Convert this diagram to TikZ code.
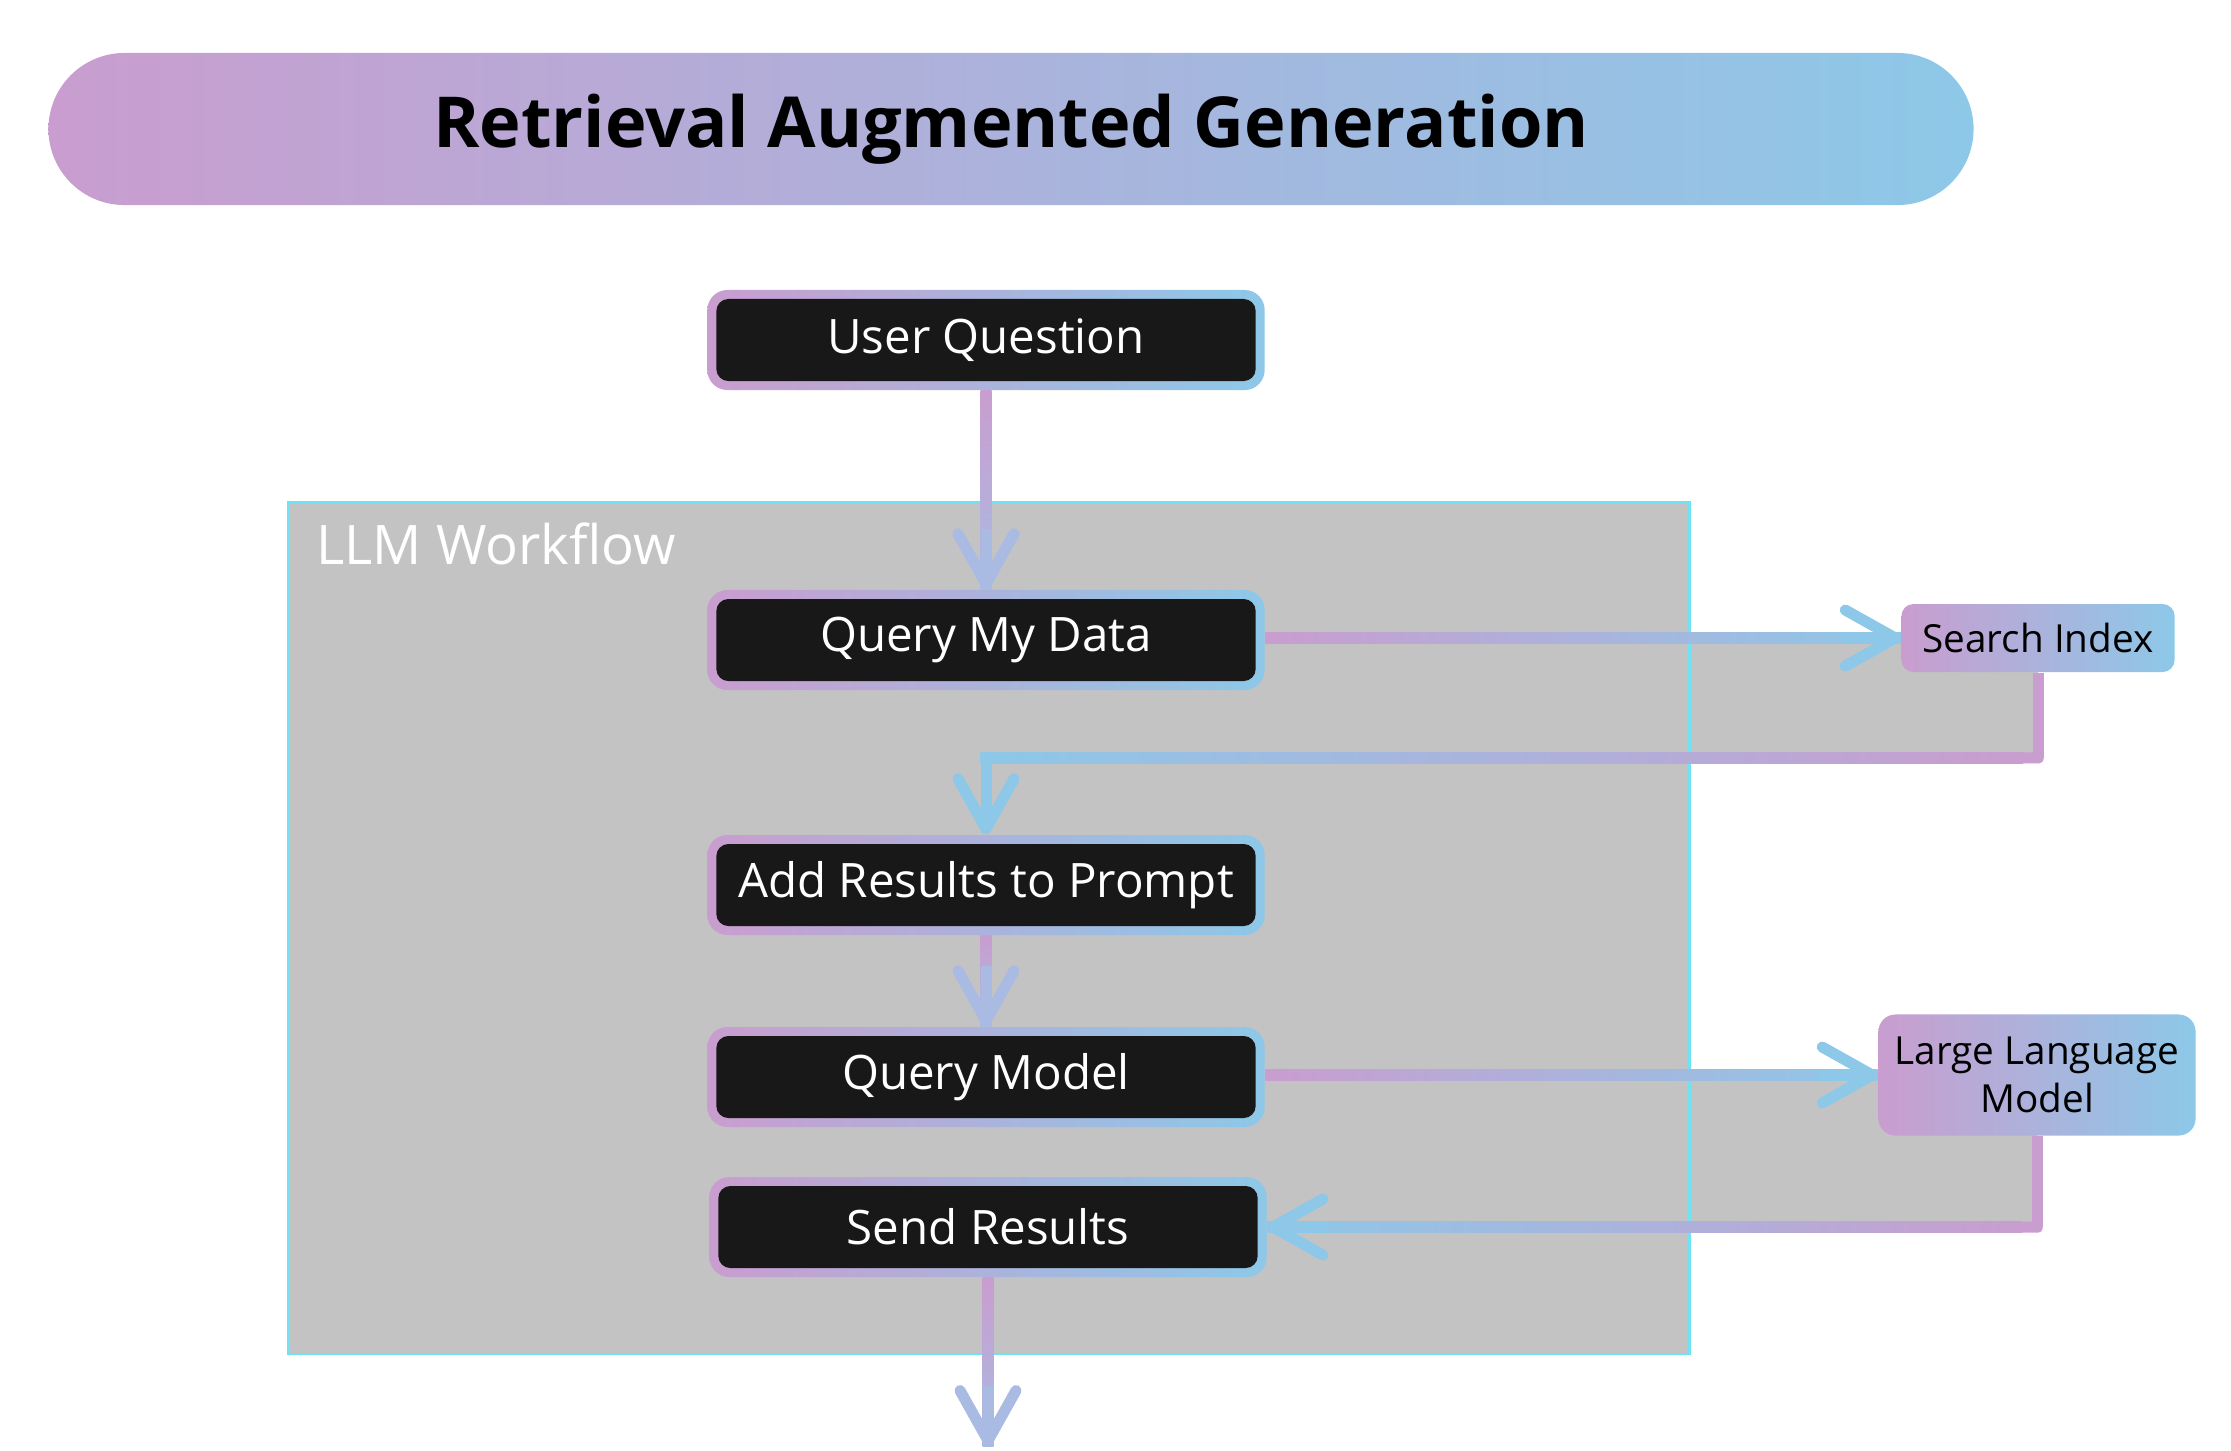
\documentclass[tikz,border=0pt]{standalone}
\usepackage{fontspec}
\setmainfont{Open Sans}
\usetikzlibrary{arrows.meta,calc,backgrounds}

\definecolor{pinkc}{HTML}{C99DCF}
\definecolor{bluec}{HTML}{8DC8E8}
\definecolor{lavc}{HTML}{A9BBE3}
\definecolor{boxfill}{HTML}{181818}
\definecolor{wfgray}{HTML}{C3C3C3}
\definecolor{wfedge}{HTML}{6FE2F3}

\tikzset{
  titlebar/.style={rectangle, rounded corners=0.76cm, left color=pinkc, right color=bluec,
    minimum width=19.24cm, minimum height=1.52cm, font=\fontsize{20}{24}\selectfont\bfseries},
  container/.style={rectangle, draw=wfedge, fill=wfgray, line width=0.02cm, inner sep=0pt,
    minimum width=14.01cm, minimum height=8.52cm},
  stepbox/.style={rectangle, rounded corners=0.2cm, left color=pinkc, right color=bluec,
    minimum width=5.57cm, minimum height=1.0cm, text=white, font=\fontsize{13.5}{16}\selectfont,
    path picture={\fill[boxfill, rounded corners=0.12cm]
      ([shift={(0.09cm,0.09cm)}]path picture bounding box.south west) rectangle
      ([shift={(-0.09cm,-0.09cm)}]path picture bounding box.north east);}},
  toolbox/.style={rectangle, rounded corners=0.12cm, left color=pinkc, right color=bluec,
    text=black, align=center, inner sep=0pt, font=\fontsize{11}{13.6}\selectfont},
  flowline/.style={line width=0.11cm},
  flowhead/.style={line width=0.11cm, -{Straight Barb[length=0.5cm, width=0.56cm, round]}},
}

\begin{document}
\begin{tikzpicture}[x=0.01cm, y=-0.01cm]
\useasboundingbox (0,0) rectangle (2231,1450);

% title
\node[titlebar] (title) at (1011,129) {Retrieval Augmented Generation};

% workflow area
\node[container] (wf) at (988.5,928) {};
\node[anchor=base west, inner sep=0pt, text=white, font=\fontsize{15.5}{18}\selectfont]
  (wflabel) at ($(wf.north west)+(29,64)$) {LLM Workflow};

% steps
\node[stepbox] (uq) at (986,340) {User Question};
\node[stepbox] (qmd) at (986,640) {Query My Data};
\node[stepbox] (arp) at (986,885) {Add Results to Prompt};
\node[stepbox] (qm) at (986,1077) {Query Model};
\node[stepbox] (sr) at (988,1227) {Send Results};

% services
\node[toolbox, minimum width=2.73cm, minimum height=0.68cm] (si) at (2038,638) {Search Index};
\node[toolbox, minimum width=3.17cm, minimum height=1.21cm, rounded corners=0.17cm]
  (llm) at (2037,1075) {Large Language\\Model};

\coordinate (siturn) at ($(si.south)+(0,85)$);
\coordinate (llmturn) at (llm.south |- sr.east);
\coordinate (out) at (988,1446);

% grey behind the side loops
\begin{scope}[on background layer]
\fill[wfgray] (wf.east |- si.west) rectangle (siturn);
\fill[wfgray] (wf.east |- llm.west) rectangle (llmturn);
\draw[wfedge, line width=0.02cm] (wf.north east) -- (wf.south east);
\draw[flowline, pinkc] (si.south) -- (siturn);
\draw[flowline, pinkc] (llm.south) -- (llmturn);
\end{scope}

% connectors
\shade[top color=pinkc, bottom color=lavc] ($(uq.south)+(-5.5,0)$) rectangle ($(qmd.north)+(5.5,0)$);
\draw[flowhead, lavc] ($(qmd.north)+(0,-60)$) -- (qmd.north);

\shade[left color=pinkc, right color=bluec] ($(qmd.east |- si.west)+(0,-5.5)$) rectangle ($(si.west)+(0,5.5)$);
\draw[flowhead, bluec] ($(si.west)+(-60,0)$) -- (si.west);

\fill[pinkc, rounded corners=0.04cm] ($(siturn)+(-20,-5.5)$) -- ($(siturn)+(5.5,-5.5)$) -- ($(siturn)+(5.5,5.5)$) -- ($(siturn)+(-20,5.5)$) -- cycle;
\shade[left color=bluec, right color=pinkc] ($(siturn -| arp.north)+(-5.5,-5.5)$) rectangle ($(siturn)+(-15,5.5)$);
\draw[flowhead, bluec] ($(siturn -| arp.north)+(0,-5.5)$) -- (arp.north);

\shade[top color=pinkc, bottom color=lavc] ($(arp.south)+(-5.5,0)$) rectangle ($(qm.north)+(5.5,0)$);
\draw[flowhead, lavc] ($(qm.north)+(0,-60)$) -- (qm.north);

\shade[left color=pinkc, right color=bluec] ($(qm.east |- llm.west)+(0,-5.5)$) rectangle ($(llm.west)+(0,5.5)$);
\draw[flowhead, bluec] ($(llm.west)+(-60,0)$) -- (llm.west);

\fill[pinkc, rounded corners=0.04cm] ($(llmturn)+(-20,-5.5)$) -- ($(llmturn)+(5.5,-5.5)$) -- ($(llmturn)+(5.5,5.5)$) -- ($(llmturn)+(-20,5.5)$) -- cycle;
\shade[left color=bluec, right color=pinkc] ($(sr.east)+(0,-5.5)$) rectangle ($(llmturn)+(-15,5.5)$);
\draw[flowhead, bluec] ($(sr.east)+(60,0)$) -- (sr.east);

\shade[top color=pinkc, bottom color=lavc] ($(sr.south)+(-5.5,0)$) rectangle ($(out)+(5.5,0)$);
\draw[flowhead, lavc] ($(out)+(0,-60)$) -- (out);
\end{tikzpicture}
\end{document}
